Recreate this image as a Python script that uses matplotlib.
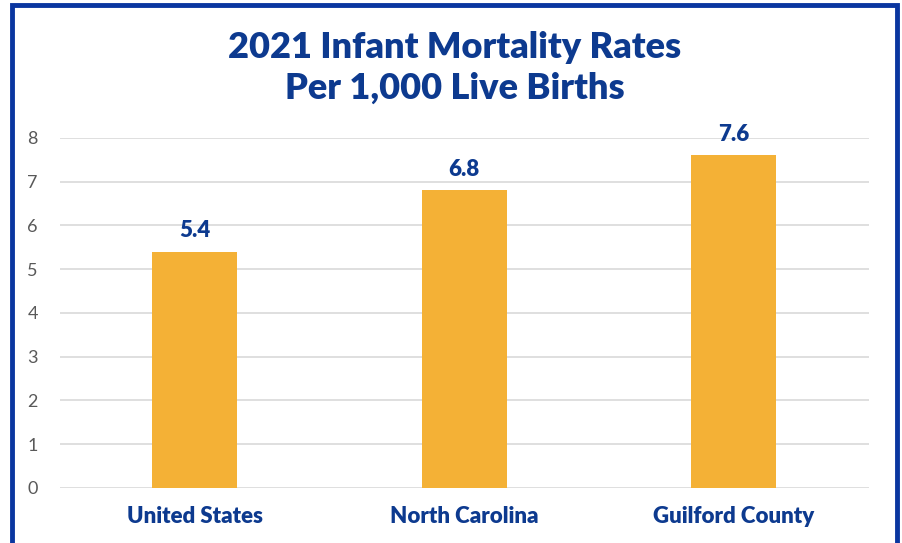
import matplotlib.pyplot as plt
from matplotlib.patches import Rectangle

# --- Data ---
regions = ['United States', 'North Carolina', 'Guilford County']
rates = [5.4, 6.8, 7.6]
y_ticks = [0, 1, 2, 3, 4, 5, 6, 7, 8]

navy = '#0d3a8f'
bar_color = '#f4b136'
frame_color = '#0a36a0'

plt.rcParams['font.family'] = ['Lato', 'DejaVu Sans']

fig = plt.figure(figsize=(9.02, 5.43), dpi=100)
ax = fig.add_axes([0.0665, 0.1013, 0.8965, 0.6446])

x = range(len(regions))
ax.bar(x, rates, width=0.315, color=bar_color, zorder=3)

for xi, v in zip(x, rates):
    ax.text(xi, v + 0.25, f'{v}', ha='center', va='bottom',
            fontsize=16, fontweight='heavy', color=navy)

ax.set_xlim(-0.5, 2.5)
ax.set_ylim(0, 8)
ax.set_yticks(y_ticks)
ax.set_xticks(list(x))
ax.set_xticklabels(regions, fontsize=16, fontweight='heavy', color=navy)
ax.tick_params(axis='x', length=0, pad=13)
ax.tick_params(axis='y', length=0, pad=16, labelsize=13, labelcolor='#595959')
ax.grid(axis='y', color='#d9d9d9', linewidth=1.2, zorder=0)
for s in ax.spines.values():
    s.set_visible(False)

fig.text(0.504, 0.913, '2021 Infant Mortality Rates', ha='center', va='center',
         fontsize=26, fontweight='heavy', color=navy)
fig.text(0.504, 0.838, 'Per 1,000 Live Births', ha='center', va='center',
         fontsize=26, fontweight='heavy', color=navy)

# blue frame (open at the bottom)
frame = Rectangle((12 / 902, -0.05), (897 - 12) / 902, 1.05 - 5 / 543,
                  transform=fig.transFigure, fill=False,
                  edgecolor=frame_color, linewidth=3.5, clip_on=False)
fig.patches.append(frame)

fig.savefig('out.png', dpi=100)
